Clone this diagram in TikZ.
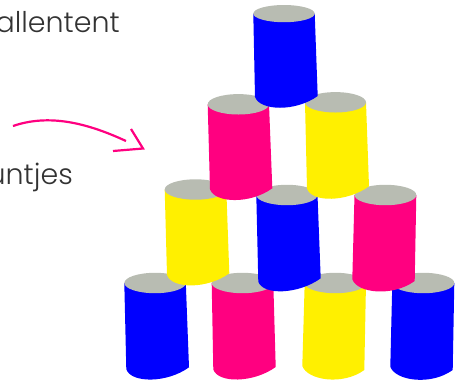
\documentclass[tikz,border=0pt]{standalone}
\usepackage{fontspec}
\setmainfont{Poppins}[UprightFont=* Light]
\definecolor{canblue}{HTML}{0000FF}
\definecolor{canpink}{HTML}{FF0080}
\definecolor{canyellow}{HTML}{FFF000}
\definecolor{cantop}{HTML}{B8BCB2}
\definecolor{txt}{HTML}{333333}
\newcommand{\canry}{10.2}
% #1 colour; #2,#3 top-left; #4,#5 top-right; #6,#7 bottom-left; #8,#9 bottom-right
\newcommand{\mycan}[9]{%
  \fill[#1] (#2,#3) -- (#6,#7) .. controls +(5,14) and +(-22,16) .. (#8,#9) -- (#4,#5) -- cycle;
  \fill[cantop] ({(#2+#4)/2},{(#3+#5)/2}) ellipse [x radius={(#4-#2)/2}, y radius=\canry];
}
\tikzset{lbl/.style={font=\fontsize{28.5}{28.5}\selectfont, text=txt, inner sep=0pt, anchor=base east},
  pinkline/.style={draw=canpink, line width=2.2pt}}
\begin{document}
\begin{tikzpicture}[x=1pt,y=-1pt]
\useasboundingbox (0,0) rectangle (455,381);
\node[lbl] (t1) at (120,32) {allentent};
\node[lbl] (t2) at (73,184) {untjes};
\coordinate (a0) at (13,126);
\coordinate (a1) at (126,141);
\coordinate (h0) at (131,129);
\coordinate (h1) at (143,148.5);
\coordinate (h2) at (113,151);
\draw[pinkline] (a0) .. controls (48,114) and (85,122) .. (a1);
\draw[pinkline, miter limit=10] (h0) -- (h1) -- (h2);
% bottom row
\mycan{canblue}{124.3}{283}{185.8}{283}{126.3}{369.3}{189}{367.3}
\mycan{canpink}{211.7}{283}{273.3}{283}{213.3}{369.5}{275.7}{367}
\mycan{canyellow}{304.7}{283}{366}{283}{302.3}{366}{364.3}{370}
\mycan{canblue}{392.3}{283}{454.3}{283}{390.3}{366.7}{452.7}{370}
% third row
\mycan{canyellow}{164.7}{189.5}{226.3}{189.5}{167}{275}{229.3}{273.3}
\mycan{canblue}{256.3}{195}{317.5}{195}{258.3}{281.7}{320.7}{278.3}
\mycan{canpink}{354.5}{195}{416.3}{195}{352.3}{279.3}{414.7}{281}
% second row
\mycan{canpink}{207.7}{104.3}{269}{104.3}{210}{189.3}{272.3}{188.3}
\mycan{canyellow}{305}{102.3}{366}{102.3}{307}{188.7}{369}{186.3}
% top
\renewcommand{\canry}{8.6}
\mycan{canblue}{253.3}{13.6}{314.7}{13.6}{255}{97}{317.7}{96}
\end{tikzpicture}
\end{document}
